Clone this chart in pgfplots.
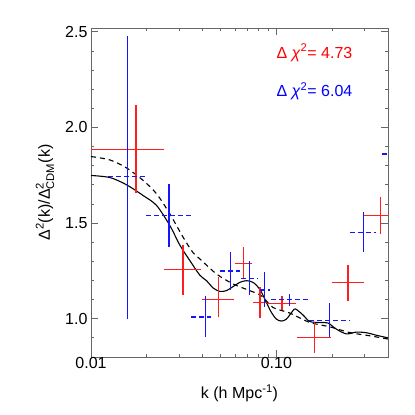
\documentclass[border=0pt]{standalone}
\usepackage{amsmath}
\usepackage{fontspec}
\setmainfont{Liberation Sans}
\usepackage{xcolor}
\usepackage{pgfplots}
\pgfplotsset{compat=1.18}
\definecolor{cred}{RGB}{255,30,30}
\definecolor{cblue}{RGB}{20,20,255}

\begin{document}
\begin{tikzpicture}
\path[use as bounding box] (-91pt,-58pt) rectangle (324pt,357pt);
\begin{axis}[
    scale only axis, width=297pt, height=329pt,
    xmode=log, xmin=0.01, xmax=0.4, ymin=0.8, ymax=2.52,
    xtick={0.01,0.1}, xticklabels={0.01,0.10},
    minor xtick={0.02,0.03,0.04,0.05,0.06,0.07,0.08,0.09,0.2,0.3},
    ytick={1.0,1.5,2.0,2.5}, yticklabels={1.0,1.5,2.0,2.5},
    minor ytick={0.9,1.1,1.2,1.3,1.4,1.6,1.7,1.8,1.9,2.1,2.2,2.3,2.4},
    tick align=inside, major tick length=7pt, minor tick length=3.5pt,
    axis line style={black!60, line width=0.8pt},
    every tick/.style={black!60, line width=0.8pt},
    tick label style={font=\fontsize{16}{19}\selectfont},
    xticklabel style={yshift=3pt},
    every axis x label/.style={at={(rel axis cs:0.5,0)}, yshift=-36pt, anchor=center,
        font=\fontsize{16}{19}\selectfont},
    every axis y label/.style={at={(rel axis cs:0,0.5)}, xshift=-46pt, rotate=90, anchor=center,
        font=\fontsize{16}{19}\selectfont},
    xlabel={k (h Mpc$^{\text{-1}}$)},
    ylabel={Δ$^{\text{2}}$(k)/Δ$^{\text{2}}_{\text{CDM}}$(k)},
    unbounded coords=jump,
]
% model curves
\addplot[draw=black, line width=1.1pt, smooth] coordinates {
 (0.0100,1.749) (0.01266,1.738) (0.01557,1.700) (0.01912,1.644) (0.02259,1.592)
 (0.02664,1.487) (0.03015,1.385) (0.03414,1.304) (0.03864,1.228) (0.04198,1.199)
 (0.04557,1.161) (0.04951,1.143) (0.05381,1.147) (0.05838,1.168) (0.06343,1.190)
 (0.06894,1.199) (0.07482,1.190) (0.08131,1.155) (0.08838,1.085) (0.09400,1.033)
 (0.1000,0.998) (0.1064,0.988) (0.1132,0.998) (0.1228,1.042) (0.1270,1.051)
 (0.1391,1.020) (0.1511,0.986) (0.1711,0.980) (0.1896,0.978) (0.2104,0.946)
 (0.2382,0.921) (0.2697,0.930) (0.3052,0.927) (0.3455,0.914) (0.4000,0.900)
};
\addplot[draw=black, line width=1.1pt, smooth, dash pattern=on 5pt off 4pt] coordinates {
 (0.0100,1.848) (0.01266,1.830) (0.01557,1.788) (0.01912,1.723) (0.02259,1.653)
 (0.02664,1.548) (0.03140,1.426) (0.03556,1.345) (0.03864,1.313) (0.04753,1.234)
 (0.05838,1.182) (0.07181,1.147) (0.08302,1.120) (0.09587,1.059) (0.1179,1.030)
 (0.1511,0.981) (0.1936,0.958) (0.2481,0.928) (0.3180,0.911) (0.4000,0.894)
};
% red crosses: bin width and error range
\addplot[draw=cred, line width=1.4pt] coordinates {
 (0.0100,1.886) (0.0249,1.886) (nan,nan) (0.01747,1.657) (0.01747,2.115) (nan,nan)
 (0.0249,1.256) (0.0394,1.256) (nan,nan) (0.0314,1.124) (0.0314,1.388) (nan,nan)
 (0.0397,1.100) (0.0592,1.100) (nan,nan) (0.0489,1.007) (0.0489,1.216) (nan,nan)
 (0.0596,1.290) (0.0743,1.290) (nan,nan) (0.0667,1.212) (0.0667,1.374) (nan,nan)
 (0.0746,1.085) (0.0887,1.085) (nan,nan) (0.0815,1.006) (0.0815,1.166) (nan,nan)
 (0.0887,1.081) (0.1280,1.081) (nan,nan) (0.1073,1.045) (0.1073,1.117) (nan,nan)
 (0.1290,0.902) (0.1980,0.902) (nan,nan) (0.1600,0.823) (0.1600,0.981) (nan,nan)
 (0.1990,1.189) (0.2970,1.189) (nan,nan) (0.2430,1.094) (0.2430,1.282) (nan,nan)
 (0.2970,1.540) (0.4500,1.540) (nan,nan) (0.3640,1.443) (0.3640,1.639)
};
% blue crosses: error range solid
\addplot[draw=cblue, line width=1.4pt] coordinates {
 (0.01577,1.000) (0.01577,2.480) (nan,nan)
 (0.0263,1.376) (0.0263,1.706) (nan,nan)
 (0.0415,0.902) (0.0415,1.120) (nan,nan)
 (0.0566,1.148) (0.0566,1.347) (nan,nan)
 (0.0714,1.124) (0.0714,1.300) (nan,nan)
 (0.0866,1.062) (0.0866,1.243) (nan,nan)
 (0.1180,1.068) (0.1180,1.130) (nan,nan)
 (0.1930,0.902) (0.1930,1.080) (nan,nan)
 (0.2940,1.347) (0.2940,1.556)
};
% blue crosses: bin width dashed
\addplot[draw=cblue, line width=1.4pt, dash pattern=on 5pt off 3pt] coordinates {
 (0.0124,1.745) (0.0198,1.745) (nan,nan)
 (0.0198,1.541) (0.0348,1.541) (nan,nan)
 (0.0348,1.010) (0.0446,1.010) (nan,nan)
 (0.0495,1.250) (0.0640,1.250) (nan,nan)
 (0.0646,1.209) (0.0797,1.209) (nan,nan)
 (0.0818,1.151) (0.0925,1.151) (nan,nan)
 (0.0930,1.100) (0.1500,1.100) (nan,nan)
 (0.1500,0.992) (0.2480,0.992) (nan,nan)
 (0.2480,1.452) (0.3450,1.452) (nan,nan)
 (0.3720,1.862) (0.4000,1.862)
};
% chi-square labels
\node[anchor=west, inner sep=0pt, text=red, font=\fontsize{16}{19}\selectfont]
  at (axis cs:0.1,2.39) {Δ \textit{χ}$^{\text{2}}$= 4.73};
\node[anchor=west, inner sep=0pt, text=blue, font=\fontsize{16}{19}\selectfont]
  at (axis cs:0.1,2.19) {Δ \textit{χ}$^{\text{2}}$= 6.04};
\end{axis}
\end{tikzpicture}
\end{document}
